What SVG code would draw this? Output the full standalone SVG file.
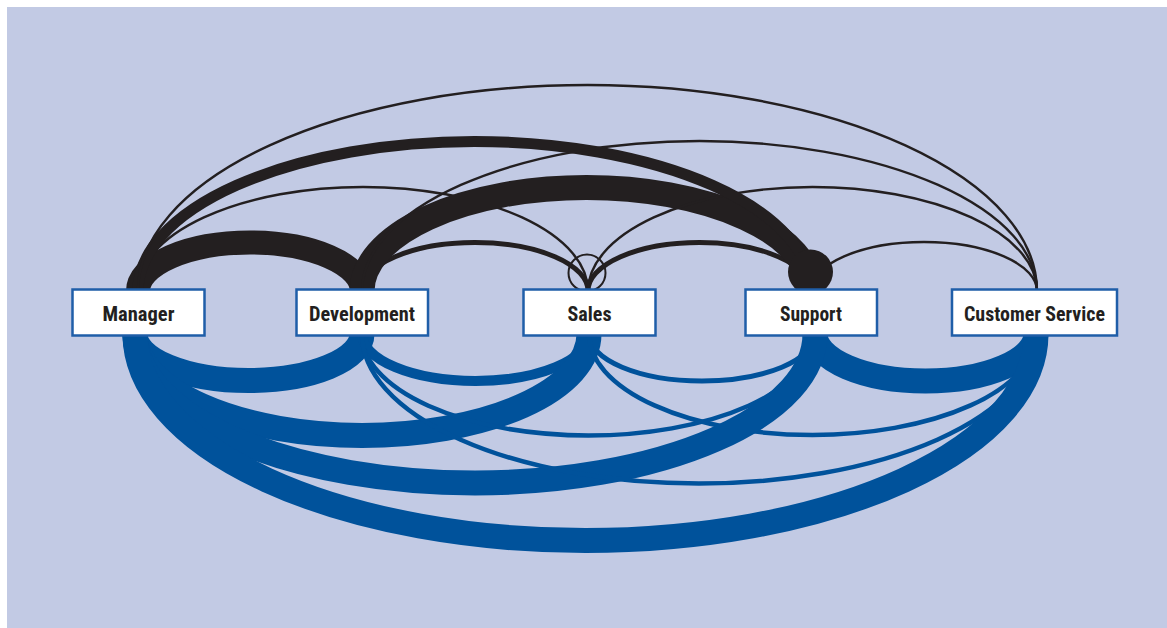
<svg xmlns="http://www.w3.org/2000/svg" width="1167" height="628" viewBox="0 0 1167 628">
<style>
.bg{fill:#c2cae4}
.top{fill:none;stroke:#231f20;stroke-linecap:butt}
.bot{fill:none;stroke:#00529b;stroke-linecap:butt}
.box{fill:#ffffff;stroke:#1f5ea8;stroke-width:2.5}
.lbl{font-family:"Liberation Sans Narrow","Roboto Condensed","DejaVu Sans Condensed","Liberation Sans",Arial,sans-serif;font-stretch:condensed;font-weight:bold;font-size:20px;fill:#231f20;text-anchor:middle}
</style>
<rect width="1167" height="628" fill="#ffffff"/>
<rect class="bg" x="7" y="7" width="1160" height="621"/>
<g id="connectors">
  <g id="top-arcs">
    <path class="top" stroke-width="24" d="M138 291 A112 48.5 0 0 1 362 291"/>
    <path class="top" stroke-width="5" d="M362 291 A113 48.5 0 0 1 588 291"/>
    <path class="top" stroke-width="5" d="M588 291 A111.5 48.5 0 0 1 811 291"/>
    <path class="top" stroke-width="2.4" d="M811 291 A113 49 0 0 1 1037 291"/>
    <path class="top" stroke-width="2.4" d="M138 291 A225 104 0 0 1 588 291"/>
    <path class="top" stroke-width="25" d="M362 291 A224.5 103.5 0 0 1 811 291"/>
    <path class="top" stroke-width="2.4" d="M588 291 A224.5 104 0 0 1 1037 291"/>
    <path class="top" stroke-width="11" d="M138 291 A336.5 149.5 0 0 1 811 291"/>
    <path class="top" stroke-width="2.4" d="M362 291 A337.5 150 0 0 1 1037 291"/>
    <path class="top" stroke-width="2.4" d="M138 291 A449.5 206 0 0 1 1037 291"/>
    <circle cx="587" cy="273" r="18.5" fill="none" stroke="#231f20" stroke-width="2"/>
    <circle cx="810.5" cy="272" r="22.5" fill="#231f20"/>
  </g>
  <g id="bottom-arcs">
    <path class="bot" stroke-width="25" d="M135 334 A113.5 46.5 0 0 0 362 334"/>
    <path class="bot" stroke-width="10" d="M362 334 A113.5 47 0 0 0 589 334"/>
    <path class="bot" stroke-width="5" d="M589 334 A113 47 0 0 0 815 334"/>
    <path class="bot" stroke-width="25" d="M815 334 A110.5 47 0 0 0 1036 334"/>
    <path class="bot" stroke-width="25" d="M135 334 A227 101.5 0 0 0 589 334"/>
    <path class="bot" stroke-width="4.5" d="M362 334 A226.5 101.5 0 0 0 815 334"/>
    <path class="bot" stroke-width="4.5" d="M589 334 A223.5 101 0 0 0 1036 334"/>
    <path class="bot" stroke-width="25" d="M135 334 A340 149 0 0 0 815 334"/>
    <path class="bot" stroke-width="4.5" d="M362 334 A337 149.5 0 0 0 1036 334"/>
    <path class="bot" stroke-width="25" d="M135 334 A450.5 206.5 0 0 0 1036 334"/>
  </g>
</g>
<g id="node-manager">
  <rect class="box" x="72.5" y="289.5" width="132" height="46"/>
  <text class="lbl" x="138.5" y="320.5" textLength="72" lengthAdjust="spacingAndGlyphs">Manager</text>
</g>
<g id="node-development">
  <rect class="box" x="296.5" y="289.5" width="131.5" height="46"/>
  <text class="lbl" x="362" y="320.5" textLength="106" lengthAdjust="spacingAndGlyphs">Development</text>
</g>
<g id="node-sales">
  <rect class="box" x="523.5" y="289.5" width="132" height="46"/>
  <text class="lbl" x="589.5" y="320.5" textLength="44" lengthAdjust="spacingAndGlyphs">Sales</text>
</g>
<g id="node-support">
  <rect class="box" x="745.5" y="289.5" width="131.5" height="46"/>
  <text class="lbl" x="811" y="320.5" textLength="62" lengthAdjust="spacingAndGlyphs">Support</text>
</g>
<g id="node-customer-service">
  <rect class="box" x="952" y="289.5" width="165" height="46"/>
  <text class="lbl" x="1034.5" y="320.5" textLength="141" lengthAdjust="spacingAndGlyphs">Customer Service</text>
</g>
</svg>
